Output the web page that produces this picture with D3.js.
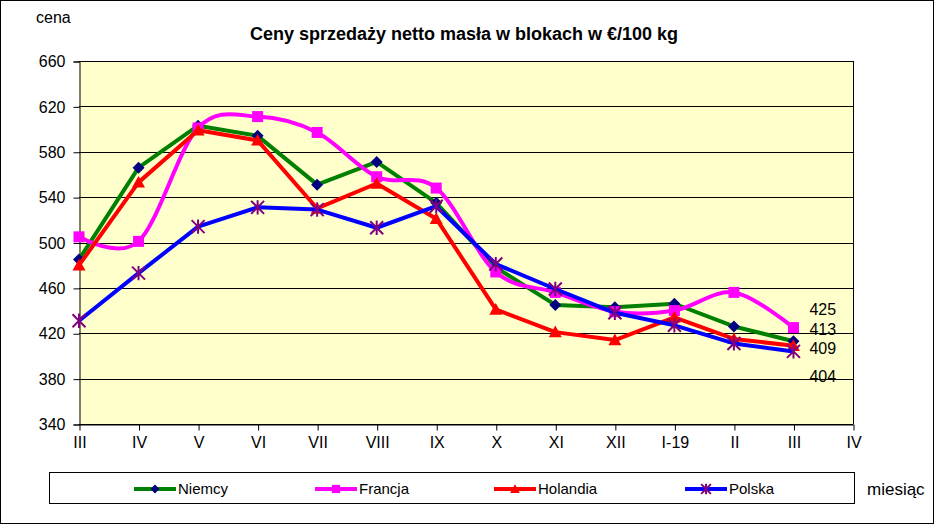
<!DOCTYPE html>
<html><head><meta charset="utf-8">
<script src="https://cdn.jsdelivr.net/npm/d3@7"></script>
<style>
html,body{margin:0;padding:0;background:#fff;}
svg text{font-family:Arial,"Liberation Sans",sans-serif;}
</style></head>
<body>
<svg id="c" width="935" height="525"></svg>
<script>
const months = ["III","IV","V","VI","VII","VIII","IX","X","XI","XII","I-19","II","III","IV"];
const niemcy   = [485,566,603,594,551,571,535,478,445,443,446,426,413];
const francja  = [505,501,601,611,597,558,548,474,456,439,440,456,425];
const holandia = [480,553,599,590,530,552,521,441,421,414,434,415,409];
const polska   = [431,473,514,531,529,513,532,481,459,438,427,411,404];
const yTicks = [340,380,420,460,500,540,580,620,660];
const endLabels = [425,413,409,404];
const endLabelShift = [-18,-12,3,25];

const svg = d3.select("#c");
const L = 79, R = 853, T = 61, B = 424;
const x = d3.scaleLinear().domain([0, months.length-1]).range([L, R]);
const y = d3.scaleLinear().domain([340, 660]).range([B, T]);

svg.append("rect").attr("x",0.5).attr("y",0.5).attr("width",933).attr("height",523)
  .attr("fill","#fff").attr("stroke","#000").attr("stroke-width",1);

svg.append("rect").attr("x",L).attr("y",T).attr("width",R-L).attr("height",B-T).attr("fill","#FFFFCC");

// gridlines
svg.append("g").selectAll("line").data(yTicks).join("line")
  .attr("x1",L).attr("x2",R).attr("y1",d=>Math.round(y(d))+0.5).attr("y2",d=>Math.round(y(d))+0.5)
  .attr("stroke","#000").attr("stroke-width",1);
svg.append("line").attr("x1",R+0.5).attr("x2",R+0.5).attr("y1",T).attr("y2",B).attr("stroke","#000");

// y axis
const yAxis = d3.axisLeft(y).tickValues(yTicks).tickSize(6).tickPadding(8);
const gy = svg.append("g").attr("transform",`translate(${L+0.5},0.5)`).call(yAxis);
gy.selectAll("text").attr("font-size",16).attr("fill","#000");
gy.select(".domain").attr("stroke","#000");
gy.selectAll(".tick line").attr("stroke","#000");

// x axis
const xAxis = d3.axisBottom(x).tickValues(d3.range(months.length)).tickFormat(i=>months[i]).tickSize(6).tickPadding(6).tickSizeOuter(0);
const gx = svg.append("g").attr("transform",`translate(0.5,${B+0.5})`).call(xAxis);
gx.selectAll("text").attr("font-size",16).attr("fill","#000");
gx.select(".domain").attr("stroke","#000");
gx.selectAll(".tick line").attr("stroke","#000");

const series = [
  {name:"Niemcy", data:niemcy, color:"#008000", marker:"diamond", mcolor:"#000080", curve:d3.curveLinear},
  {name:"Francja", data:francja, color:"#FF00FF", marker:"square", mcolor:"#FF00FF", curve:d3.curveCardinal.tension(0)},
  {name:"Holandia", data:holandia, color:"#FF0000", marker:"triangle", mcolor:"#FF0000", curve:d3.curveLinear},
  {name:"Polska", data:polska, color:"#0000FF", marker:"star", mcolor:"#800080", curve:d3.curveLinear}
];

function drawMarker(g, type, cx, cy, color, scale=1){
  if(type==="diamond"){
    const s=6*scale;
    g.append("path").attr("d",`M${cx},${cy-s}L${cx+s},${cy}L${cx},${cy+s}L${cx-s},${cy}Z`).attr("fill",color);
  } else if(type==="square"){
    const s=5.5*scale;
    g.append("rect").attr("x",cx-s).attr("y",cy-s).attr("width",2*s).attr("height",2*s).attr("fill",color);
  } else if(type==="triangle"){
    const s=6.5*scale;
    g.append("path").attr("d",`M${cx},${cy-s}L${cx+s},${cy+s*0.8}L${cx-s},${cy+s*0.8}Z`).attr("fill",color);
  } else {
    const s=6.5*scale;
    const p = `M${cx-s},${cy-s}L${cx+s},${cy+s}M${cx-s},${cy+s}L${cx+s},${cy-s}M${cx},${cy-s*1.1}L${cx},${cy+s*1.1}`;
    g.append("path").attr("d",p).attr("stroke",color).attr("stroke-width",2).attr("fill","none");
  }
}

series.forEach(s=>{
  const g = svg.append("g");
  const line = d3.line().x((d,i)=>x(i)).y(d=>y(d)).curve(s.curve);
  g.append("path").attr("d",line(s.data)).attr("fill","none").attr("stroke",s.color)
   .attr("stroke-width",4).attr("stroke-linejoin","round");
  s.data.forEach((d,i)=>drawMarker(g, s.marker, x(i), y(d), s.mcolor));
});

// end labels
svg.append("g").selectAll("text").data(endLabels).join("text")
  .attr("x", x(12)+16).attr("y",(d,i)=>y(d)+endLabelShift[i])
  .attr("dy","0.35em").attr("font-size",16).attr("fill","#000").text(d=>d);

// title and axis names
svg.append("text").attr("x",464).attr("y",40).attr("text-anchor","middle")
  .attr("font-size",18).attr("font-weight","bold").text("Ceny sprzedaży netto masła w blokach w €/100 kg");
svg.append("text").attr("x",36).attr("y",23).attr("font-size",16).text("cena");
svg.append("text").attr("x",867).attr("y",495).attr("font-size",17).text("miesiąc");

// legend
svg.append("rect").attr("x",49.5).attr("y",472.5).attr("width",805).attr("height",31)
  .attr("fill","#fff").attr("stroke","#000");
const legX = [134,315,494,685];
series.forEach((s,i)=>{
  const g = svg.append("g");
  const cy = 489;
  g.append("line").attr("x1",legX[i]).attr("x2",legX[i]+42).attr("y1",cy).attr("y2",cy)
    .attr("stroke",s.color).attr("stroke-width",4);
  drawMarker(g, s.marker, legX[i]+21, cy, s.mcolor, 0.75);
  g.append("text").attr("x",legX[i]+44).attr("y",cy).attr("dy","0.35em").attr("font-size",15).text(s.name);
});
</script>
</body></html>
